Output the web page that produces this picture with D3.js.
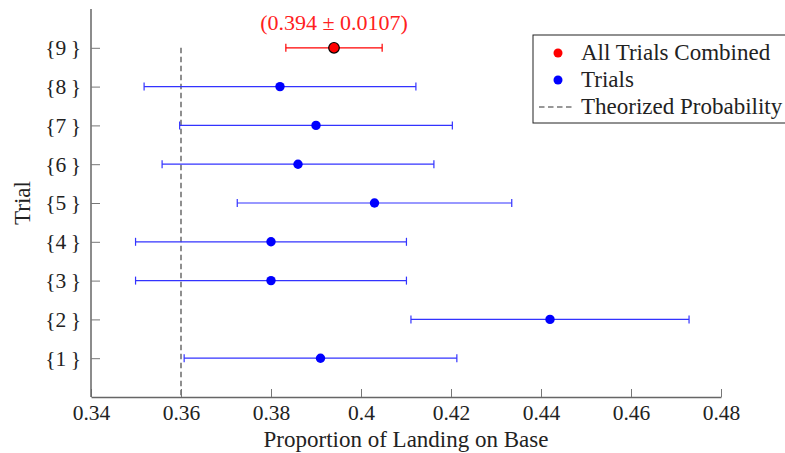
<!DOCTYPE html>
<html>
<head>
<meta charset="utf-8">
<script src="https://cdn.jsdelivr.net/npm/d3@7"></script>
<style>
  body { margin: 0; background: #fff; }
  svg { font-family: "Liberation Serif", "DejaVu Serif", serif; }
</style>
</head>
<body>
<svg id="chart" width="785" height="453"></svg>
<script>
// data
var trials = [1, 2, 3, 4, 5, 6, 7, 8];
var means = [0.391, 0.442, 0.380, 0.380, 0.403, 0.386, 0.390, 0.382];
var errors = [0.0303, 0.0309, 0.0301, 0.0301, 0.0305, 0.0302, 0.0303, 0.0302];
var combinedTrial = 9;
var combinedMean = 0.394;
var combinedError = 0.0107;
var theorized = 0.36;
var xTicks = [0.34, 0.36, 0.38, 0.4, 0.42, 0.44, 0.46, 0.48];
var yTicks = [1, 2, 3, 4, 5, 6, 7, 8, 9];

var svg = d3.select('#chart');
var margin = { top: 9, right: 64, bottom: 56, left: 91 };
var width = 785 - margin.left - margin.right;
var height = 453 - margin.top - margin.bottom;

var x = d3.scaleLinear().domain([0.34, 0.48]).range([0, width]);
var y = d3.scaleLinear().domain([0, 10]).range([height, 0]);

var g = svg.append('g')
  .attr('transform', `translate(${margin.left},${margin.top})`);

// theorized probability line
g.append('line')
  .attr('x1', x(theorized)).attr('x2', x(theorized))
  .attr('y1', y(combinedTrial)).attr('y2', height)
  .attr('stroke', '#333')
  .attr('stroke-width', 1.1)
  .attr('stroke-dasharray', '5.5,3.5');

// axes
var xAxis = g.append('g')
  .attr('transform', `translate(0,${height})`)
  .call(d3.axisBottom(x).tickValues(xTicks).tickSize(-8).tickSizeOuter(0)
    .tickFormat(d => d3.format('')(+d.toFixed(2))));
var yAxis = g.append('g')
  .call(d3.axisLeft(y).tickValues(yTicks).tickSize(-9).tickSizeOuter(0)
    .tickFormat(d => '{' + d + '\u2009}'));

[xAxis, yAxis].forEach(a => {
  a.select('.domain').attr('stroke', '#666').attr('stroke-width', 1.5);
  a.selectAll('.tick line').attr('stroke', '#777');
  a.selectAll('.tick text')
    .attr('fill', '#222')
    .style('font-family', '"Liberation Serif", serif')
    .style('font-size', '21.5px');
});
xAxis.selectAll('.tick text').attr('dy', null).attr('y', 23);
yAxis.selectAll('.tick text').attr('x', -10);
yAxis.select('.domain').attr('d', `M0,${height}V0`);

// trial error bars
var capH = 4;
var bars = g.selectAll('.trial')
  .data(trials)
  .enter().append('g')
  .attr('class', 'trial');
bars.append('line')
  .attr('x1', (d, i) => x(means[i] - errors[i]))
  .attr('x2', (d, i) => x(means[i] + errors[i]))
  .attr('y1', d => y(d)).attr('y2', d => y(d))
  .attr('stroke', '#3333ff').attr('stroke-width', 1.2);
bars.append('line')
  .attr('x1', (d, i) => x(means[i] - errors[i]))
  .attr('x2', (d, i) => x(means[i] - errors[i]))
  .attr('y1', d => y(d) - capH).attr('y2', d => y(d) + capH)
  .attr('stroke', '#3333ff').attr('stroke-width', 1.2);
bars.append('line')
  .attr('x1', (d, i) => x(means[i] + errors[i]))
  .attr('x2', (d, i) => x(means[i] + errors[i]))
  .attr('y1', d => y(d) - capH).attr('y2', d => y(d) + capH)
  .attr('stroke', '#3333ff').attr('stroke-width', 1.2);
bars.append('circle')
  .attr('cx', (d, i) => x(means[i]))
  .attr('cy', d => y(d))
  .attr('r', 4.7)
  .attr('fill', 'blue');

// combined trial
var cy = y(combinedTrial);
var lo = x(combinedMean - combinedError), hi = x(combinedMean + combinedError);
g.append('line').attr('x1', lo).attr('x2', hi).attr('y1', cy).attr('y2', cy)
  .attr('stroke', 'red').attr('stroke-width', 1.2);
[lo, hi].forEach(px => {
  g.append('line').attr('x1', px).attr('x2', px)
    .attr('y1', cy - capH).attr('y2', cy + capH)
    .attr('stroke', 'red').attr('stroke-width', 1.2);
});
g.append('circle')
  .attr('cx', x(combinedMean)).attr('cy', cy).attr('r', 5.3)
  .attr('fill', 'red').attr('stroke', 'black').attr('stroke-width', 1.2);
g.append('text')
  .attr('x', x(combinedMean)).attr('y', cy - 18)
  .attr('text-anchor', 'middle')
  .attr('fill', '#ff2020')
  .style('font-size', '22px')
  .text('(' + combinedMean + ' \u00b1 ' + combinedError + ')');

// axis labels
svg.append('text')
  .attr('x', margin.left + width / 2).attr('y', 447)
  .attr('text-anchor', 'middle')
  .attr('fill', '#222')
  .style('font-size', '23px')
  .text('Proportion of Landing on Base');
svg.append('text')
  .attr('transform', `translate(30,${margin.top + height / 2}) rotate(-90)`)
  .attr('text-anchor', 'middle')
  .attr('fill', '#222')
  .style('font-size', '23px')
  .text('Trial');

// legend
var legend = svg.append('g').attr('transform', 'translate(533,35)');
legend.append('rect')
  .attr('x', 0).attr('y', 0).attr('width', 270).attr('height', 88)
  .attr('fill', 'white').attr('stroke', '#222').attr('stroke-width', 1);
var legendItems = [
  { label: 'All Trials Combined', type: 'dot', color: 'red' },
  { label: 'Trials', type: 'dot', color: 'blue' },
  { label: 'Theorized Probability', type: 'dash', color: '#333' }
];
legendItems.forEach((d, i) => {
  var ly = 18 + i * 27;
  if (d.type === 'dot') {
    legend.append('circle').attr('cx', 25).attr('cy', ly).attr('r', 4.5).attr('fill', d.color);
  } else {
    legend.append('line').attr('x1', 6).attr('x2', 39).attr('y1', ly).attr('y2', ly)
      .attr('stroke', d.color).attr('stroke-width', 1.1).attr('stroke-dasharray', '5.5,3.5');
  }
  legend.append('text')
    .attr('x', 48).attr('y', ly + 6.5)
    .attr('fill', '#222')
    .style('font-size', '23px')
    .text(d.label);
});
</script>
</body>
</html>
